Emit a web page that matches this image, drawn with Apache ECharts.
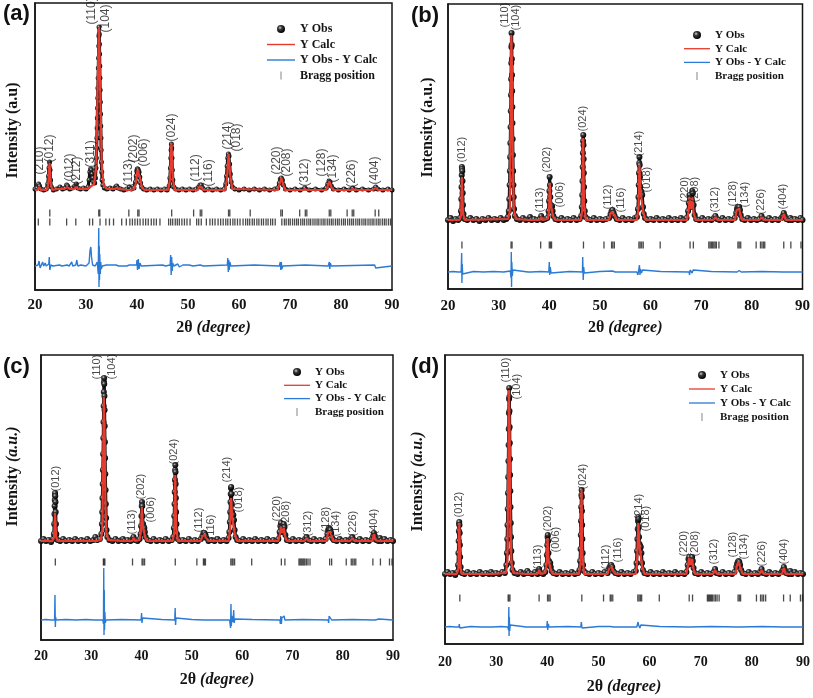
<!DOCTYPE html>
<html><head><meta charset="utf-8">
<script src="https://cdn.jsdelivr.net/npm/echarts@6/dist/echarts.min.js"></script>
<style>html,body{margin:0;padding:0;background:#fff}#c{width:813px;height:698px}</style>
</head><body><div id="c"></div>
<script>
// ---------------- DATA (2θ in degrees, intensity in a.u. above background) ----------------
const xTicks = [20, 30, 40, 50, 60, 70, 80, 90];
const legendNames = ['Y Obs', 'Y Calc', 'Y Obs - Y Calc', 'Bragg position'];
const panelTags = ['(a)', '(b)', '(c)', '(d)'];
const yTitles = ['Intensity (a.u)', 'Intensity (a.u.)', 'Intensity (a.u.)', 'Intensity (a.u.)'];

// ---- panel (a)
const obsA = [[20,3],[20.4,4],[20.7,8],[20.9,6],[21.2,3],[21.7,2],[22.2,3],[22.5,8],[22.65,16],[22.75,24],[22.85,30],[22.95,22],[23.05,12],[23.2,5],[23.6,2],[24.2,3],[24.9,5],[25.4,3],[25.9,4],[26.2,7],[26.4,6],[26.8,3],[27.3,4],[27.8,6],[28.1,8],[28.4,4],[28.9,3],[29.5,4],[30.0,3],[30.4,5],[30.6,12],[30.75,20],[30.9,23],[31.05,22],[31.2,18],[31.35,14],[31.5,10],[31.7,9],[31.85,14],[31.95,24],[32.02,34],[32.08,44],[32.13,54],[32.18,64],[32.22,74],[32.26,84],[32.3,94],[32.34,104],[32.38,114],[32.42,124],[32.46,134],[32.5,146],[32.53,156],[32.56,165],[32.6,158],[32.63,148],[32.66,138],[32.7,126],[32.73,114],[32.77,102],[32.81,90],[32.85,78],[32.89,66],[32.93,54],[32.97,42],[33.02,30],[33.08,20],[33.16,12],[33.3,7],[33.6,4],[34.1,3],[34.7,4],[35.3,3],[35.8,5],[36.0,6],[36.3,4],[36.8,3],[37.4,2],[38.0,3],[38.5,5],[38.9,3],[39.4,4],[39.7,10],[39.85,16],[39.95,21],[40.05,23],[40.15,23],[40.25,22],[40.4,20],[40.55,15],[40.7,9],[40.9,5],[41.3,3],[41.9,2],[42.6,3],[43.3,2],[44.0,3],[44.7,2],[45.4,3],[45.9,2],[46.3,6],[46.45,14],[46.55,24],[46.62,34],[46.68,42],[46.74,48],[46.8,44],[46.86,34],[46.93,22],[47.02,12],[47.2,5],[47.6,3],[48.2,2],[48.9,3],[49.6,2],[50.3,3],[51.0,2],[51.6,3],[52.1,5],[52.35,7],[52.6,7],[52.85,4],[53.3,2],[54.0,3],[54.8,2],[55.6,3],[56.4,2],[57.1,3],[57.4,8],[57.55,16],[57.68,26],[57.8,34],[57.92,38],[58.04,36],[58.16,28],[58.3,18],[58.45,10],[58.7,5],[59.2,3],[60.0,2],[61.0,3],[62.0,2],[63.0,3],[64.0,2],[65.0,3],[66.0,2],[67.0,3],[67.6,4],[67.9,9],[68.1,13],[68.3,14],[68.5,12],[68.7,7],[69.1,3],[70.0,2],[71.0,3],[72.0,2],[72.9,4],[73.8,2],[75.0,3],[76.2,2],[77.1,4],[77.4,8],[77.65,11],[77.85,10],[78.1,6],[78.5,3],[79.5,2],[80.6,3],[81.6,2],[82.3,4],[83.0,2],[84.2,3],[85.4,2],[86.4,3],[86.8,5],[87.2,3],[88.2,2],[89.2,3],[90,2]];
const calcA = [[20,2],[20.5,2],[20.8,5],[21.1,2],[22.3,2],[22.6,8],[22.85,29],[23.1,8],[23.4,2],[24.5,3],[25.8,3],[26.3,5],[26.8,3],[27.6,3],[28.0,5],[28.4,3],[30.2,3],[30.8,5],[31.1,6],[31.6,8],[32.0,25],[32.3,110],[32.55,165],[32.8,100],[33.1,25],[33.5,6],[34.2,3],[35.6,3],[36.0,4],[36.4,3],[38.2,2],[38.5,4],[38.8,2],[39.5,3],[39.8,10],[40.1,22],[40.3,23],[40.6,14],[41.0,4],[41.5,2],[46.1,2],[46.45,12],[46.75,49],[47.05,12],[47.4,2],[51.9,2],[52.3,6],[52.6,7],[53.0,2],[57.3,2],[57.6,12],[57.95,38],[58.3,16],[58.7,3],[67.6,2],[67.95,8],[68.3,14],[68.65,8],[69.0,2],[72.5,2],[72.9,3],[73.3,2],[77.1,2],[77.45,7],[77.75,11],[78.1,5],[78.5,2],[81.9,2],[82.3,3],[82.7,2],[86.3,2],[86.8,4],[87.3,2],[90,2]];
const diffA = [[20,0],[20.6,1],[20.8,5],[21.0,-2],[21.2,0],[21.5,4],[21.7,0],[22.0,3],[22.2,0],[22.7,2],[22.8,9],[22.9,-4],[23.1,1],[23.5,0],[24.8,1],[25.0,2],[25.3,0],[26.3,1],[26.5,3],[26.7,0],[27.0,1],[27.2,4],[27.4,0],[28.0,1],[28.2,6],[28.4,0],[29.0,1],[30.0,0],[30.6,3],[30.8,16],[30.95,19],[31.1,8],[31.3,1],[31.8,0],[32.2,4],[32.4,-8],[32.5,38],[32.55,-21],[32.6,20],[32.65,-14],[32.7,12],[32.8,-8],[32.9,4],[33.0,-3],[33.2,0],[34.0,1],[35.9,1],[36.1,3],[36.4,0],[38.0,0],[38.5,1],[39.9,1],[40.0,6],[40.1,-4],[40.25,7],[40.4,-3],[40.6,3],[40.8,0],[45.0,1],[45.3,2],[45.6,0],[46.5,1],[46.6,11],[46.7,-9],[46.8,9],[46.9,-5],[47.0,3],[47.2,0],[48.0,2],[48.3,-1],[49.0,1],[49.3,0],[50.2,1],[51.0,0],[52.4,1],[52.6,-1],[53.0,0],[57.7,1],[57.8,8],[57.9,-6],[58.0,6],[58.1,-4],[58.2,4],[58.4,0],[63.0,1],[63.3,0],[67.9,0],[68.1,4],[68.2,-4],[68.3,4],[68.4,-3],[68.6,0],[73.0,1],[73.3,0],[77.5,0],[77.7,4],[77.8,-3],[77.9,3],[78.1,0],[86.6,1],[86.8,-2],[87.0,0],[90,0]];
const braggA1 = [22.9,32.5,32.7,38.4,40.15,40.4,46.8,51.1,52.4,52.7,57.95,58.2,62.2,68.2,68.5,71.9,73.0,73.3,77.7,78.0,81.2,82.2,82.5,86.7,87.4];
const braggA2 = [20.65,22.9,26.2,28.0,30.7,31.3,32.75,33.9,34.6,35.4,37.0,37.9,38.6,39.1,39.6,40.1,40.6,41.2,41.7,42.2,42.8,43.3,43.8,44.5,46.2,46.6,47.0,47.5,47.9,48.3,48.8,49.3,49.8,50.4,51.7,52.1,52.6,53.6,54.3,54.8,55.3,55.9,56.4,56.9,57.4,57.8,58.3,58.8,59.2,59.7,60.2,60.8,61.3,61.7,62.1,62.6,63.0,63.5,63.9,64.4,64.8,65.3,65.7,66.2,66.6,67.1,68.4,68.9,69.25,69.7,70.05,70.5,70.9,71.3,71.65,72.1,72.5,72.85,73.3,73.7,74.05,74.5,74.9,75.3,75.65,76.1,76.5,76.85,77.3,77.7,78.1,78.45,78.9,79.3,79.65,80.1,80.5,80.85,81.3,81.7,82.1,82.45,82.9,83.3,83.65,84.1,84.5,84.85,85.3,85.7,86.1,86.45,86.9,87.3,87.65,88.1,88.5,88.85,89.3,89.7];
const hklA = [[21.1,17,'(210)'],[22.9,29,'(012)'],[26.9,10,'(012)'],[28.3,7,'(212)'],[31.0,24,'(311)'],[31.2,167,'(110)'],[33.9,159,'(104)'],[38.4,5,'(113)'],[39.5,29,'(202)'],[41.4,25,'(006)'],[46.9,50,'(024)'],[51.6,10,'(112)'],[54.1,5,'(116)'],[57.8,42,'(214)'],[59.7,40,'(018)'],[67.5,17,'(220)'],[69.4,15,'(208)'],[73.0,5,'(312)'],[76.3,15,'(128)'],[78.4,9,'(134)'],[82.1,4,'(226)'],[86.7,7,'(404)']];

// ---- panel (b)
const obsB = [[20,1],[20.5,3],[21,0],[21.5,2],[22,1],[22.4,3],[22.55,10],[22.62,22],[22.67,34],[22.71,46],[22.74,54],[22.78,52],[22.82,50],[22.86,40],[22.9,28],[22.96,16],[23.05,7],[23.3,2],[23.8,1],[24.4,3],[25,1],[25.6,2],[26.2,0],[26.8,2],[27.4,1],[28,3],[28.6,1],[29.2,2],[29.8,1],[30.4,3],[31,1],[31.5,2],[31.85,4],[32.0,10],[32.1,22],[32.17,36],[32.22,50],[32.27,64],[32.31,78],[32.35,94],[32.39,110],[32.43,126],[32.46,142],[32.49,158],[32.52,174],[32.55,188],[32.58,176],[32.61,162],[32.64,146],[32.67,130],[32.7,114],[32.73,98],[32.77,82],[32.81,66],[32.86,50],[32.91,36],[32.97,24],[33.05,12],[33.2,5],[33.6,2],[34.2,1],[34.8,3],[35.4,1],[35.9,2],[36.2,4],[36.5,1],[37,2],[37.6,1],[38.1,2],[38.4,5],[38.7,1],[39.2,2],[39.6,3],[39.85,10],[39.95,20],[40.02,30],[40.07,44],[40.13,36],[40.2,24],[40.3,16],[40.45,14],[40.55,15],[40.65,10],[40.8,5],[41.2,2],[41.8,1],[42.4,3],[43,1],[43.6,2],[44.2,1],[44.8,3],[45.4,1],[46,2],[46.3,5],[46.42,14],[46.5,26],[46.55,40],[46.59,54],[46.63,68],[46.67,80],[46.71,86],[46.75,76],[46.78,62],[46.82,48],[46.86,34],[46.92,20],[47.0,10],[47.15,4],[47.6,2],[48.2,1],[48.8,3],[49.4,1],[50,2],[50.6,1],[51.2,2],[51.8,3],[52.1,7],[52.3,10],[52.5,11],[52.7,8],[52.9,5],[53.3,2],[53.9,1],[54.5,3],[55.1,1],[55.7,2],[56.3,1],[56.9,3],[57.3,4],[57.5,12],[57.6,24],[57.66,36],[57.71,48],[57.76,58],[57.8,64],[57.85,56],[57.9,44],[57.96,34],[58.05,30],[58.2,29],[58.35,26],[58.5,14],[58.65,7],[58.9,3],[59.4,1],[60,2],[60.6,1],[61.2,3],[61.8,1],[62.4,2],[63,1],[63.6,3],[64.2,1],[64.8,2],[65.4,1],[66,3],[66.6,1],[67.1,3],[67.4,10],[67.55,18],[67.68,26],[67.8,22],[67.95,14],[68.1,20],[68.22,30],[68.35,28],[68.5,16],[68.7,6],[69.0,2],[69.6,1],[70.2,3],[70.8,1],[71.4,2],[72,1],[72.5,3],[72.8,5],[73.1,2],[73.6,1],[74.2,3],[74.8,1],[75.4,2],[76,1],[76.6,3],[76.9,8],[77.05,12],[77.2,14],[77.35,13],[77.5,14],[77.65,11],[77.8,6],[78.1,2],[78.6,1],[79.2,3],[79.8,1],[80.4,2],[81,1],[81.5,2],[81.9,5],[82.3,2],[82.8,1],[83.4,3],[84,1],[84.6,2],[85.2,1],[85.8,3],[86.1,5],[86.3,8],[86.5,5],[86.8,2],[87.3,1],[87.6,3],[87.9,1],[88.5,2],[89.1,1],[89.6,3],[90,1]];
const calcB = [[20,1],[22.3,1],[22.6,6],[22.75,44],[22.95,8],[23.3,1],[31.9,2],[32.2,10],[32.4,120],[32.5,186],[32.65,150],[32.8,60],[33.0,12],[33.4,2],[35.9,1],[36.2,3],[36.5,1],[38.1,1],[38.4,4],[38.7,1],[39.7,2],[39.95,10],[40.1,38],[40.3,16],[40.55,14],[40.8,4],[41.2,1],[46.2,1],[46.5,10],[46.7,83],[46.85,20],[47.2,1],[51.8,1],[52.2,9],[52.5,10],[52.9,6],[53.3,1],[57.3,1],[57.6,12],[57.8,56],[58.0,30],[58.3,28],[58.6,8],[59.0,1],[67.2,1],[67.5,10],[67.7,24],[67.95,12],[68.25,24],[68.5,8],[68.9,1],[72.4,1],[72.8,4],[73.2,1],[76.7,1],[77.0,11],[77.25,13],[77.5,12],[77.8,5],[78.1,1],[81.5,1],[81.9,4],[82.3,1],[85.9,1],[86.3,7],[86.7,1],[87.3,1],[87.6,3],[87.9,1],[90,1]];
const diffB = [[20,0],[21,0.5],[22,0],[22.6,0],[22.7,19],[22.75,-11],[22.8,8],[22.9,-2],[23.0,0],[25,0.5],[27,0],[29,0.5],[31,0],[32.3,1],[32.45,-6],[32.5,20],[32.55,-15],[32.6,10],[32.7,-4],[32.8,2],[33.0,0],[35.8,0],[36.1,2],[36.4,0],[38.4,0.5],[39.9,0],[40.0,10],[40.1,-3],[40.2,5],[40.35,-1],[40.5,1],[40.7,0],[44,0.5],[46.55,0],[46.6,15],[46.7,-8],[46.8,5],[46.9,-1],[47.0,0],[50,0.5],[52.5,1],[53,0],[57.3,0],[57.5,-3],[57.7,-2],[57.8,7],[57.9,-3],[58.0,3],[58.2,-1],[58.4,2],[58.6,0],[62,0.5],[67.6,0],[67.7,-3],[67.8,2],[68.2,-1],[68.4,2],[68.6,0],[72,0.5],[77.1,0],[77.3,2],[77.5,1.5],[77.7,2],[77.9,0],[82,0.5],[86.2,0],[86.35,-2],[86.5,0],[90,0]];
const braggB = [22.75,32.45,32.65,38.3,40.0,40.25,40.45,46.75,50.8,52.3,52.55,52.85,57.7,57.95,58.25,58.55,61.9,67.8,68.45,71.5,71.75,72.0,72.25,72.5,72.75,73.0,73.5,77.25,77.5,77.8,80.85,81.7,82.0,82.3,82.55,86.3,87.7,89.7];
const hklB = [[22.8,58,'(012)'],[31.3,193,'(110)'],[33.5,190,'(104)'],[38.3,8,'(113)'],[39.6,48,'(202)'],[42.2,13,'(006)'],[46.8,89,'(024)'],[51.6,11,'(112)'],[54.2,8,'(116)'],[57.9,64,'(214)'],[59.3,28,'(018)'],[66.9,18,'(220)'],[68.9,18,'(208)'],[72.8,8,'(312)'],[76.4,14,'(128)'],[78.7,13,'(134)'],[81.9,6,'(226)'],[86.3,11,'(404)']];

// ---- panel (c)
const obsC = [[20,1],[20.5,3],[21,1],[21.5,2],[22,0],[22.4,3],[22.55,8],[22.62,18],[22.67,28],[22.71,36],[22.74,42],[22.77,47],[22.8,49],[22.84,46],[22.88,40],[22.92,30],[22.97,18],[23.05,8],[23.3,2],[23.8,1],[24.4,3],[25,1],[25.6,2],[26.2,1],[26.8,3],[27.4,1],[28,2],[28.6,1],[29.2,3],[29.8,1],[30.4,2],[30.8,5],[31.2,2],[31.7,3],[32.0,8],[32.1,18],[32.17,30],[32.22,44],[32.27,58],[32.31,72],[32.35,88],[32.39,104],[32.43,120],[32.46,136],[32.49,150],[32.52,160],[32.55,164],[32.58,158],[32.61,146],[32.64,132],[32.67,116],[32.71,100],[32.75,84],[32.79,68],[32.84,52],[32.89,38],[32.95,24],[33.03,12],[33.2,5],[33.6,2],[34.2,1],[34.8,3],[35.4,1],[36,2],[36.3,3],[36.6,1],[37.2,2],[37.8,1],[38.2,3],[38.4,5],[38.7,2],[39.2,1],[39.6,3],[39.8,8],[39.9,16],[39.97,26],[40.03,36],[40.08,40],[40.14,36],[40.2,26],[40.3,18],[40.45,15],[40.55,14],[40.65,10],[40.8,5],[41.2,2],[41.8,1],[42.4,3],[43,1],[43.6,2],[44.2,1],[44.8,3],[45.4,1],[46,2],[46.3,5],[46.42,14],[46.5,26],[46.55,38],[46.59,50],[46.63,62],[46.67,72],[46.71,77],[46.75,70],[46.78,58],[46.82,44],[46.87,30],[46.93,18],[47.02,8],[47.2,3],[47.6,1],[48.2,2],[48.8,1],[49.4,3],[50,1],[50.6,2],[51.2,1],[51.8,3],[52.1,6],[52.3,9],[52.5,9],[52.7,7],[52.9,4],[53.3,1],[53.9,2],[54.5,1],[55.1,3],[55.7,1],[56.3,2],[56.9,1],[57.3,4],[57.45,10],[57.55,20],[57.62,30],[57.68,40],[57.73,48],[57.77,54],[57.82,55],[57.87,48],[57.93,38],[58.0,30],[58.12,27],[58.25,27],[58.38,22],[58.5,12],[58.7,5],[59.0,2],[59.6,1],[60.2,3],[60.8,1],[61.4,2],[62,1],[62.6,3],[63.2,1],[63.8,2],[64.4,1],[65,3],[65.6,1],[66.2,2],[66.8,1],[67.2,3],[67.45,10],[67.6,16],[67.72,19],[67.85,14],[68.0,10],[68.15,14],[68.28,18],[68.42,15],[68.6,7],[68.9,2],[69.5,1],[70.1,3],[70.7,1],[71.3,2],[71.9,1],[72.5,3],[72.8,5],[73.1,2],[73.7,1],[74.3,3],[74.9,1],[75.5,2],[76.1,1],[76.6,3],[76.95,8],[77.1,12],[77.25,14],[77.4,13],[77.55,12],[77.7,9],[77.9,4],[78.2,2],[78.8,1],[79.4,3],[80,1],[80.6,2],[81.2,1],[81.6,3],[81.9,5],[82.2,2],[82.8,1],[83.4,3],[84,1],[84.6,2],[85.2,1],[85.8,3],[86.05,6],[86.2,9],[86.4,6],[86.7,2],[87.1,1],[87.4,4],[87.7,1],[88.3,3],[88.9,1],[89.5,2],[90,1]];
const calcC = [[20,1],[22.3,1],[22.6,5],[22.8,29],[23.0,6],[23.3,1],[30.5,1],[30.8,3],[31.1,1],[31.9,2],[32.2,12],[32.4,100],[32.5,145],[32.65,110],[32.8,40],[33.0,10],[33.4,2],[36,1],[36.2,2],[36.4,1],[38.1,1],[38.4,4],[38.7,1],[39.6,2],[39.9,12],[40.05,35],[40.25,16],[40.5,14],[40.75,4],[41.1,1],[46.2,1],[46.5,10],[46.7,67],[46.85,18],[47.2,1],[51.8,1],[52.1,6],[52.35,8],[52.6,7],[52.9,4],[53.3,1],[57.3,1],[57.55,10],[57.8,44],[58.0,26],[58.3,25],[58.55,8],[59.0,1],[67.2,1],[67.5,8],[67.7,15],[67.95,9],[68.3,14],[68.55,6],[68.9,1],[72.4,1],[72.8,4],[73.2,1],[76.8,1],[77.1,10],[77.3,12],[77.55,10],[77.8,6],[78.1,1],[81.5,1],[81.9,4],[82.3,1],[85.9,1],[86.2,8],[86.5,2],[87.1,1],[87.4,3],[87.7,1],[90,1]];
const diffC = [[20,0],[21,0.5],[22,0],[22.7,0],[22.78,25],[22.85,-7],[22.92,3],[23.0,0],[25,0.5],[27,0],[29,0.5],[30.6,0],[30.9,2],[31.2,0],[32.3,0],[32.42,-4],[32.48,52],[32.53,-15],[32.58,30],[32.63,-10],[32.7,8],[32.8,-3],[32.9,0],[36,0.5],[39.9,0],[40.0,7],[40.08,-3],[40.2,2],[40.35,0],[44,0.5],[46.6,0],[46.68,12],[46.76,-5],[46.85,2],[46.95,0],[50,0.5],[52.3,0],[52.45,2],[52.6,0],[57.5,0],[57.7,-8],[57.78,16],[57.85,-6],[57.95,4],[58.2,-2],[58.32,10],[58.42,-3],[58.55,1],[58.7,0],[62,0.5],[67.5,0],[67.6,-4],[67.7,4],[67.8,-4],[67.9,2],[68.2,1],[68.35,4],[68.5,0],[72,0.5],[77.1,0],[77.2,-3],[77.3,4],[77.45,5],[77.6,2],[77.8,0],[82,0.5],[86.0,0],[86.15,2],[86.3,-1],[86.45,0],[87.2,1],[87.4,0],[90,0]];
const braggC = [22.85,32.4,32.55,32.7,38.2,40.1,40.3,40.6,46.7,51.0,52.3,52.5,52.7,57.75,58.0,58.2,58.5,61.9,67.8,68.5,71.3,71.5,71.7,71.9,72.1,72.3,72.5,72.8,73.1,73.5,77.4,77.8,80.7,81.7,82.0,82.3,82.6,86.0,87.5,89.3,89.8];
const hklC = [[23.0,50,'(012)'],[31.3,162,'(110)'],[34.3,162,'(104)'],[38.2,7,'(113)'],[40.0,42,'(202)'],[42.0,19,'(006)'],[46.6,77,'(024)'],[51.6,9,'(112)'],[53.9,2,'(116)'],[57.1,59,'(214)'],[59.4,29,'(018)'],[67.1,20,'(220)'],[68.9,15,'(208)'],[73.1,5,'(312)'],[76.8,9,'(128)'],[78.8,5,'(134)'],[82.1,5,'(226)'],[86.4,7,'(404)']];

// ---- panel (d)
const obsD = [[20,1],[20.5,3],[21,1],[21.5,2],[22,0],[22.4,3],[22.55,10],[22.62,22],[22.67,34],[22.71,44],[22.75,51],[22.79,53],[22.83,50],[22.87,42],[22.91,30],[22.96,18],[23.05,8],[23.3,2],[23.8,1],[24.4,3],[25,1],[25.6,2],[26.2,1],[26.8,3],[27.4,1],[28,2],[28.6,1],[29.0,3],[29.4,1],[30,2],[30.6,1],[31.2,3],[31.7,2],[32.0,10],[32.1,22],[32.17,36],[32.22,50],[32.27,66],[32.31,82],[32.35,98],[32.39,114],[32.43,130],[32.46,146],[32.49,162],[32.52,176],[32.55,187],[32.58,178],[32.61,164],[32.64,148],[32.67,132],[32.7,116],[32.73,100],[32.77,84],[32.81,68],[32.86,52],[32.91,38],[32.97,24],[33.05,12],[33.2,5],[33.6,2],[34.2,1],[34.8,3],[35.4,1],[35.8,2],[36.1,4],[36.4,2],[37,1],[37.6,3],[38.1,1],[38.4,6],[38.7,2],[39.2,1],[39.6,3],[39.82,10],[39.92,20],[39.99,30],[40.05,38],[40.1,40],[40.16,34],[40.23,22],[40.33,14],[40.47,12],[40.57,12],[40.68,8],[40.85,4],[41.2,2],[41.8,1],[42.4,3],[43,1],[43.6,2],[44.2,1],[44.8,3],[45.4,1],[46,2],[46.3,5],[46.42,14],[46.5,26],[46.55,40],[46.59,54],[46.63,68],[46.67,80],[46.71,85],[46.75,78],[46.78,64],[46.82,50],[46.86,36],[46.92,22],[47.0,10],[47.15,4],[47.6,2],[48.2,1],[48.8,3],[49.4,1],[50,2],[50.6,1],[51.2,3],[51.8,2],[52.1,7],[52.3,9],[52.5,10],[52.7,8],[52.9,4],[53.3,2],[53.9,1],[54.5,3],[55.1,1],[55.7,2],[56.3,1],[56.9,3],[57.3,4],[57.45,12],[57.55,24],[57.62,36],[57.68,46],[57.73,54],[57.78,58],[57.83,56],[57.88,48],[57.94,38],[58.02,31],[58.15,29],[58.28,28],[58.4,22],[58.52,12],[58.7,5],[59.0,2],[59.6,1],[60.2,3],[60.8,1],[61.4,2],[62,1],[62.6,3],[63.2,1],[63.8,2],[64.4,1],[65,3],[65.6,1],[66.2,2],[66.8,1],[67.2,3],[67.45,10],[67.6,16],[67.75,18],[67.9,14],[68.05,11],[68.2,15],[68.32,18],[68.45,14],[68.6,7],[68.9,2],[69.5,1],[70.1,3],[70.7,1],[71.3,2],[71.9,1],[72.5,3],[72.8,6],[73.1,2],[73.7,1],[74.3,3],[74.9,1],[75.5,2],[76.1,1],[76.6,3],[76.95,8],[77.1,11],[77.25,13],[77.4,14],[77.55,13],[77.7,10],[77.9,5],[78.2,2],[78.8,1],[79.4,3],[80,1],[80.6,2],[81.2,1],[81.6,3],[81.9,6],[82.2,2],[82.8,1],[83.4,3],[84,1],[84.6,2],[85.2,1],[85.8,3],[86.05,5],[86.25,8],[86.45,5],[86.7,2],[87.2,1],[87.5,4],[87.8,1],[88.4,3],[89,1],[89.5,2],[90,1]];
const calcD = [[20,1],[22.3,1],[22.6,6],[22.8,52],[23.0,8],[23.3,1],[28.7,1],[29.0,2],[29.3,1],[31.9,2],[32.2,14],[32.4,120],[32.5,185],[32.65,140],[32.8,50],[33.0,12],[33.4,2],[35.8,1],[36.1,3],[36.4,1],[38.1,1],[38.4,5],[38.7,1],[39.6,2],[39.9,12],[40.05,37],[40.25,14],[40.5,12],[40.75,4],[41.1,1],[46.2,1],[46.5,12],[46.7,85],[46.85,22],[47.2,1],[51.8,1],[52.1,7],[52.35,9],[52.6,8],[52.9,4],[53.3,1],[57.3,1],[57.55,12],[57.8,52],[58.0,30],[58.3,28],[58.55,9],[59.0,1],[67.2,1],[67.5,9],[67.75,17],[68.0,10],[68.3,16],[68.55,7],[68.9,1],[72.4,1],[72.8,5],[73.2,1],[76.8,1],[77.1,10],[77.35,13],[77.6,12],[77.85,6],[78.2,1],[81.5,1],[81.9,5],[82.3,1],[85.9,1],[86.25,7],[86.6,1],[87.2,1],[87.5,3],[87.8,1],[90,1]];
const diffD = [[20,0],[21,0.5],[22,0],[22.7,0],[22.8,3],[22.9,-1],[23,0],[25,0.5],[27,0],[28.9,0],[29.1,1.5],[29.3,0],[31,0.5],[32.3,0],[32.42,-3],[32.48,20],[32.53,-9],[32.58,10],[32.65,-4],[32.75,2],[32.9,0],[35.9,0],[36.1,1.5],[36.3,0],[39.9,0],[40.0,6],[40.08,-3],[40.2,3],[40.35,0],[44,0.5],[46.55,0],[46.65,5],[46.72,3],[46.8,-1],[46.9,0],[50,0.5],[52.3,0.5],[53,0],[57.5,0],[57.65,-2],[57.75,5],[57.85,2],[57.95,4],[58.1,-1],[58.3,2],[58.5,0],[62,0.5],[67.6,0],[67.75,2],[67.9,-1],[68.05,0],[72,0.5],[77.2,0],[77.4,1.5],[77.6,0],[82,0.5],[86.1,0],[86.3,1],[86.5,0],[90,0]];
const braggD = [22.9,32.35,32.5,32.7,38.4,40.05,40.3,40.55,46.75,51.0,52.3,52.5,52.8,57.7,57.95,58.2,58.45,61.9,67.75,68.4,71.3,71.5,71.7,71.9,72.1,72.3,72.6,72.9,73.2,73.6,77.3,77.55,77.8,80.9,81.7,82.0,82.3,82.7,86.2,87.5,89.5,89.9];
const hklD = [[22.9,57,'(012)'],[32.0,192,'(110)'],[34.2,175,'(104)'],[38.2,5,'(113)'],[40.3,43,'(202)'],[41.8,22,'(006)'],[47.0,85,'(024)'],[51.6,5,'(112)'],[53.9,12,'(116)'],[58.1,55,'(214)'],[59.3,43,'(018)'],[66.8,18,'(220)'],[68.9,18,'(208)'],[72.6,10,'(312)'],[76.5,17,'(128)'],[78.5,15,'(134)'],[82.0,8,'(226)'],[86.3,10,'(404)']];

// ---------------- LAYOUT / STYLE ----------------
const layout = [
  {grid:{left:35,top:3,width:357,height:287}, y:[-98,189], diffOff:-74, braggY:[-21,-30], xGap:30, xMargin:8, tickFs:15, yGap:14, yPad:32,
   legend:{left:267,top:23,itemWidth:28,itemGap:3.5,fs:12}, tag:{left:3,top:3}, hklFs:12, sym:5},
  {grid:{left:448,top:4,width:356,height:285}, y:[-68,217], diffOff:-51, braggY:[-24], xGap:31, xMargin:10, tickFs:15, yGap:12, yPad:38,
   legend:{left:684,top:29.5,itemWidth:26,itemGap:2.7,fs:11}, tag:{left:411,top:5}, hklFs:11, sym:6},
  {grid:{left:41,top:355,width:352,height:285}, y:[-98,187], diffOff:-78, braggY:[-20], xGap:32, xMargin:9, tickFs:14, yGap:20, yPad:42,
   legend:{left:284,top:366.5,itemWidth:26,itemGap:2.3,fs:11}, tag:{left:3,top:356}, hklFs:11, sym:6},
  {grid:{left:445,top:355,width:359,height:289}, y:[-69,220], diffOff:-52, braggY:[-23], xGap:35, xMargin:11, tickFs:14, yGap:19, yPad:36,
   legend:{left:689,top:369.5,itemWidth:26,itemGap:3,fs:11}, tag:{left:411,top:356}, hklFs:11, sym:6}
];
const sets = [
  {obs:obsA, calc:calcA, diff:diffA, bragg:[braggA1, braggA2], hkl:hklA},
  {obs:obsB, calc:calcB, diff:diffB, bragg:[braggB], hkl:hklB},
  {obs:obsC, calc:calcC, diff:diffC, bragg:[braggC], hkl:hklC},
  {obs:obsD, calc:calcD, diff:diffD, bragg:[braggD], hkl:hklD}
];

const SERIF = 'Liberation Serif';
const SANS = 'Liberation Sans';
const ink = '#141414';
const RED = '#e63b2e', BLUE = '#2b7bd6';
const ball = {type:'radial', x:0.38, y:0.35, r:0.65, colorStops:[{offset:0,color:'#d8d8d8'},{offset:0.35,color:'#3a3a3a'},{offset:1,color:'#000'}]};
const lineIcon = 'path://M0,0h40v2h-40z';

const option = {animation:false, backgroundColor:'#fff', grid:[], xAxis:[], yAxis:[], series:[], legend:[], graphic:[]};

layout.forEach((L, i) => {
  const S = sets[i];
  option.grid.push(Object.assign({show:true, borderColor:ink, borderWidth:1.5, backgroundColor:'transparent'}, L.grid));
  option.xAxis.push({
    type:'value', gridIndex:i, min:xTicks[0], max:xTicks[xTicks.length-1], interval:10,
    axisLine:{show:true, onZero:false, lineStyle:{color:ink, width:1.5}},
    axisTick:{show:false}, splitLine:{show:false},
    axisLabel:{color:ink, fontFamily:SERIF, fontWeight:'bold', fontSize:L.tickFs, margin:L.xMargin},
    name:'{n|2θ }{i|(degree)}', nameLocation:'middle', nameGap:L.xGap,
    nameTextStyle:{rich:{n:{fontFamily:SERIF, fontWeight:'bold', fontSize:16, color:ink},
                         i:{fontFamily:SERIF, fontWeight:'bold', fontStyle:'italic', fontSize:16, color:ink}}}
  });
  const yt = yTitles[i];
  const italicAU = i >= 2;
  option.yAxis.push({
    type:'value', gridIndex:i, min:L.y[0], max:L.y[1],
    axisLine:{show:true, onZero:false, lineStyle:{color:ink, width:1.5}},
    axisTick:{show:false}, axisLabel:{show:false}, splitLine:{show:false},
    name: italicAU ? '{n|Intensity }{i|(a.u.)}' : '{n|' + yt + '}',
    nameLocation:'middle', nameGap:L.yGap, nameRotate:90,
    nameTextStyle:{padding:[0,0,0,L.yPad],
      rich:{n:{fontFamily:SERIF, fontWeight:'bold', fontSize:16, color:ink},
            i:{fontFamily:SERIF, fontWeight:'bold', fontStyle:'italic', fontSize:16, color:ink}}}
  });
  option.series.push({
    name:'Y Obs', type:'line', xAxisIndex:i, yAxisIndex:i, data:S.obs,
    symbol:'circle', symbolSize:L.sym, showSymbol:true, showAllSymbol:true,
    itemStyle:{color:ball, borderWidth:0},
    lineStyle:{color:'#111', width:3.2}, z:2, silent:true
  });
  option.series.push({
    name:'Y Calc', type:'line', xAxisIndex:i, yAxisIndex:i, data:S.calc,
    symbol:'none', lineStyle:{color:RED, width:2.2}, itemStyle:{color:RED}, z:4, silent:true
  });
  option.series.push({
    name:'Y Obs - Y Calc', type:'line', xAxisIndex:i, yAxisIndex:i,
    data:S.diff.map(d => [d[0], d[1] + L.diffOff]),
    symbol:'none', lineStyle:{color:BLUE, width:1.4}, itemStyle:{color:BLUE}, z:3, silent:true
  });
  const bdata = [];
  S.bragg.forEach((row, r) => row.forEach(x => bdata.push([x, L.braggY[r]])));
  option.series.push({
    name:'Bragg position', type:'scatter', xAxisIndex:i, yAxisIndex:i, data:bdata,
    symbol:'rect', symbolSize:[1.3, 7], itemStyle:{color:'#1e1e1e'}, z:3, silent:true
  });
  option.series.push({
    name:'hkl', type:'scatter', xAxisIndex:i, yAxisIndex:i, data:S.hkl,
    symbolSize:1, itemStyle:{color:'transparent'}, z:6, silent:true,
    label:{show:true, position:[0,0], rotate:90, align:'left', verticalAlign:'middle',
      formatter:p => p.data[2], fontFamily:SANS, fontSize:L.hklFs, color:'#1a1a1a'}
  });
  option.legend.push({
    orient:'vertical', left:L.legend.left, top:L.legend.top, padding:0, itemWidth:L.legend.itemWidth, itemHeight:8,
    itemGap:L.legend.itemGap, selectedMode:false,
    textStyle:{fontFamily:SERIF, fontWeight:'bold', fontSize:L.legend.fs, color:ink},
    data:[{name:legendNames[0], icon:'circle'},
          {name:legendNames[1], icon:lineIcon, itemStyle:{color:RED}},
          {name:legendNames[2], icon:lineIcon, itemStyle:{color:BLUE}},
          {name:legendNames[3], icon:'path://M0,0h1v9h-1z', itemStyle:{color:'#555'}}]
  });
  option.graphic.push({type:'text', left:L.tag.left, top:L.tag.top,
    style:{text:panelTags[i], font:'bold 22px "Liberation Sans"', fill:'#111'}});
});

const chart = echarts.init(document.getElementById('c'), null, {renderer:'canvas'});
chart.setOption(option);
</script>
</body></html>
